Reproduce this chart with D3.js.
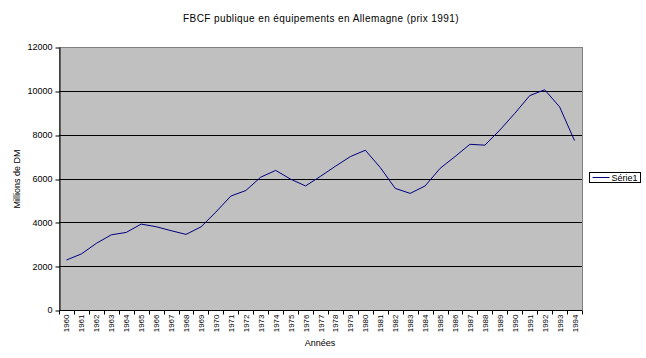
<!DOCTYPE html>
<html>
<head>
<meta charset="utf-8">
<script src="https://cdn.jsdelivr.net/npm/d3@7"></script>
<style>
  body { margin: 0; background: #fff; }
  text { font-family: "Liberation Sans", Arial, sans-serif; fill: #000; }
</style>
</head>
<body>
<svg id="chart" width="646" height="358"></svg>
<script>
// Data
const years = d3.range(1960, 1995).map(String);
const values = [2280, 2560, 3040, 3430, 3540, 3920, 3800, 3620, 3450, 3790,
                4470, 5200, 5450, 6060, 6370, 5970, 5660, 6100, 6560, 7000,
                7290, 6500, 5550, 5320, 5660, 6460, 7000, 7560, 7520, 8210,
                8970, 9780, 10050, 9270, 7730];
const yTicks = [0, 2000, 4000, 6000, 8000, 10000, 12000];

const svg = d3.select("#chart");
const margin = {left: 59, top: 47, right: 582, bottom: 310};

const x = d3.scaleBand()
    .domain(years)
    .range([margin.left, margin.right]);

const y = d3.scaleLinear()
    .domain([0, 12000])
    .range([margin.bottom, margin.top]);

// Plot background
svg.append("rect")
    .attr("x", margin.left)
    .attr("y", margin.top)
    .attr("width", margin.right - margin.left)
    .attr("height", margin.bottom - margin.top)
    .attr("fill", "#c0c0c0")
    .attr("stroke", "#808080")
    .attr("stroke-width", 1)
    .attr("shape-rendering", "crispEdges");

// Gridlines
svg.append("g")
    .selectAll("line")
    .data(yTicks.filter(d => d > 0 && d < 12000))
    .enter().append("line")
    .attr("x1", margin.left)
    .attr("x2", margin.right)
    .attr("y1", d => Math.round(y(d)) + 0.5)
    .attr("y2", d => Math.round(y(d)) + 0.5)
    .attr("stroke", "#000");

// Y axis
const yAxis = svg.append("g")
    .attr("transform", `translate(${margin.left + 0.5},0)`)
    .call(d3.axisLeft(y).tickValues(yTicks).tickFormat(d3.format("d"))
        .tickSize(4).tickPadding(3).tickSizeOuter(0));
yAxis.select(".domain").attr("stroke", "#000");
yAxis.selectAll(".tick line").attr("transform", d => `translate(0,${Math.round(y(d)) + 0.5 - y(d)})`);
yAxis.selectAll("text").style("font-size", "9px");

// X axis: ticks at category boundaries
const xAxis = svg.append("g")
    .attr("transform", `translate(0,${margin.bottom + 0.5})`);
xAxis.append("line")
    .attr("x1", margin.left)
    .attr("x2", margin.right)
    .attr("stroke", "#000");
xAxis.selectAll(".tk")
    .data(years.concat(["end"]))
    .enter().append("line")
    .attr("class", "tk")
    .attr("x1", (d, i) => Math.round(margin.left + i * x.step()) + 0.5)
    .attr("x2", (d, i) => Math.round(margin.left + i * x.step()) + 0.5)
    .attr("y1", 0)
    .attr("y2", 4)
    .attr("stroke", "#000");
xAxis.selectAll(".lbl")
    .data(years)
    .enter().append("text")
    .attr("class", "lbl")
    .attr("transform", d => `translate(${x(d) + x.bandwidth() / 2 + 3},4) rotate(-90)`)
    .attr("text-anchor", "end")
    .style("font-size", "8px")
    .text(d => d);

// Line
const line = d3.line()
    .x((d, i) => x(years[i]) + x.bandwidth() / 2)
    .y(d => y(d));

svg.append("path")
    .datum(values)
    .attr("fill", "none")
    .attr("stroke", "#000080")
    .attr("stroke-width", 1)
    .attr("d", line);

// Titles
svg.append("text")
    .attr("x", 321)
    .attr("y", 22)
    .attr("text-anchor", "middle")
    .style("font-size", "10px")
    .style("letter-spacing", "0.4px")
    .text("FBCF publique en équipements en Allemagne (prix 1991)");

svg.append("text")
    .attr("x", 320)
    .attr("y", 346)
    .attr("text-anchor", "middle")
    .style("font-size", "9px")
    .text("Années");

svg.append("text")
    .attr("transform", "translate(20,179) rotate(-90)")
    .attr("text-anchor", "middle")
    .style("font-size", "9px")
    .text("Millions de DM");

// Legend
const legend = svg.append("g").attr("transform", "translate(589.5,172.5)");
legend.append("rect")
    .attr("width", 51)
    .attr("height", 10)
    .attr("fill", "#fff")
    .attr("stroke", "#000");
legend.append("line")
    .attr("x1", 3).attr("x2", 20)
    .attr("y1", 5).attr("y2", 5)
    .attr("stroke", "#000080");
legend.append("text")
    .attr("x", 22)
    .attr("y", 8.5)
    .style("font-size", "9px")
    .text("Série1");
</script>
</body>
</html>
